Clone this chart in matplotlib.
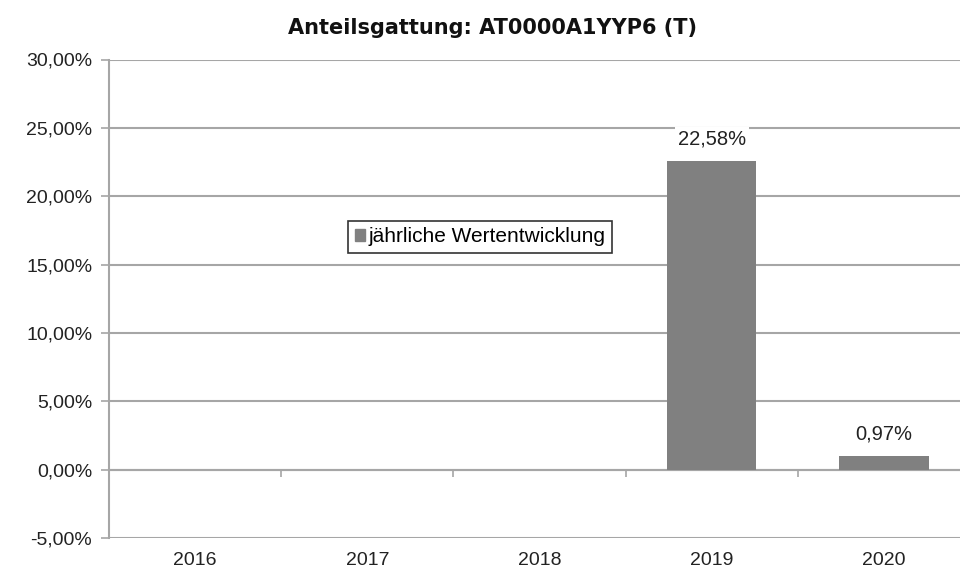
import numpy as np
import matplotlib
matplotlib.use('Agg')
import matplotlib.pyplot as plt
from matplotlib.patches import Patch

plt.rcParams['font.family'] = ['Liberation Sans', 'DejaVu Sans']

# Daten
jahre = ['2016', '2017', '2018', '2019', '2020']
werte = [np.nan, np.nan, np.nan, 22.58, 0.97]
wert_labels = ['', '', '', '22,58%', '0,97%']
y_ticks = [-5, 0, 5, 10, 15, 20, 25, 30]
titel = 'Anteilsgattung: AT0000A1YYP6 (T)'
legende = 'jährliche Wertentwicklung'

grau = '#a6a6a6'
balken = '#808080'

fig = plt.figure(figsize=(9.6, 5.72), dpi=100)
ax = fig.add_axes([109 / 960, 34 / 572, 861 / 960, 478.5 / 572])

x = np.arange(len(jahre))
bars = ax.bar(x, werte, width=0.52, color=balken, zorder=3)
ax.bar_label(bars, labels=wert_labels, padding=9, fontsize=14.5, color='#222222',
             bbox=dict(facecolor='white', edgecolor='none', pad=2), zorder=4)

ax.set_xlim(-0.5, 4.5)
ax.set_ylim(-5, 30)
ax.set_yticks(y_ticks)
ax.set_yticklabels(['%d,00%%' % v for v in y_ticks], fontsize=14, color='#222222')
ax.set_xticks(x)
ax.set_xticklabels(jahre, fontsize=14, color='#222222')
ax.tick_params(axis='x', length=0, pad=10)
ax.tick_params(axis='y', length=6, width=1.2, color=grau, pad=6)
ax.yaxis.grid(True, color=grau, linewidth=1.5, zorder=0)
ax.set_axisbelow(True)

for s in ['top', 'right', 'bottom']:
    ax.spines[s].set_visible(False)
ax.spines['left'].set_color(grau)
ax.spines['left'].set_linewidth(1.5)

# Achse bei 0 %
sec = ax.secondary_xaxis(5 / 35)
sec.set_xticks(x[:-1] + 0.5)
sec.set_xticklabels([])
sec.tick_params(length=5, width=1.2, color=grau)
sec.spines['bottom'].set_color(grau)
sec.spines['bottom'].set_linewidth(1.5)

fig.text(493 / 960, 1 - 28 / 572, titel, ha='center', va='center', fontsize=15,
         fontweight='bold', family='DejaVu Sans', color='#111111')

leg = fig.legend(handles=[Patch(color=balken, label=legende)],
                 loc='center', bbox_to_anchor=(480 / 960, 1 - 237 / 572),
                 fontsize=15, frameon=True, fancybox=False, handlelength=0.5,
                 handleheight=0.5, handletextpad=0.15, borderpad=0.3,
                 borderaxespad=0)
leg.get_frame().set_edgecolor('black')
leg.get_frame().set_linewidth(1.2)

fig.savefig('out.png', dpi=100)
